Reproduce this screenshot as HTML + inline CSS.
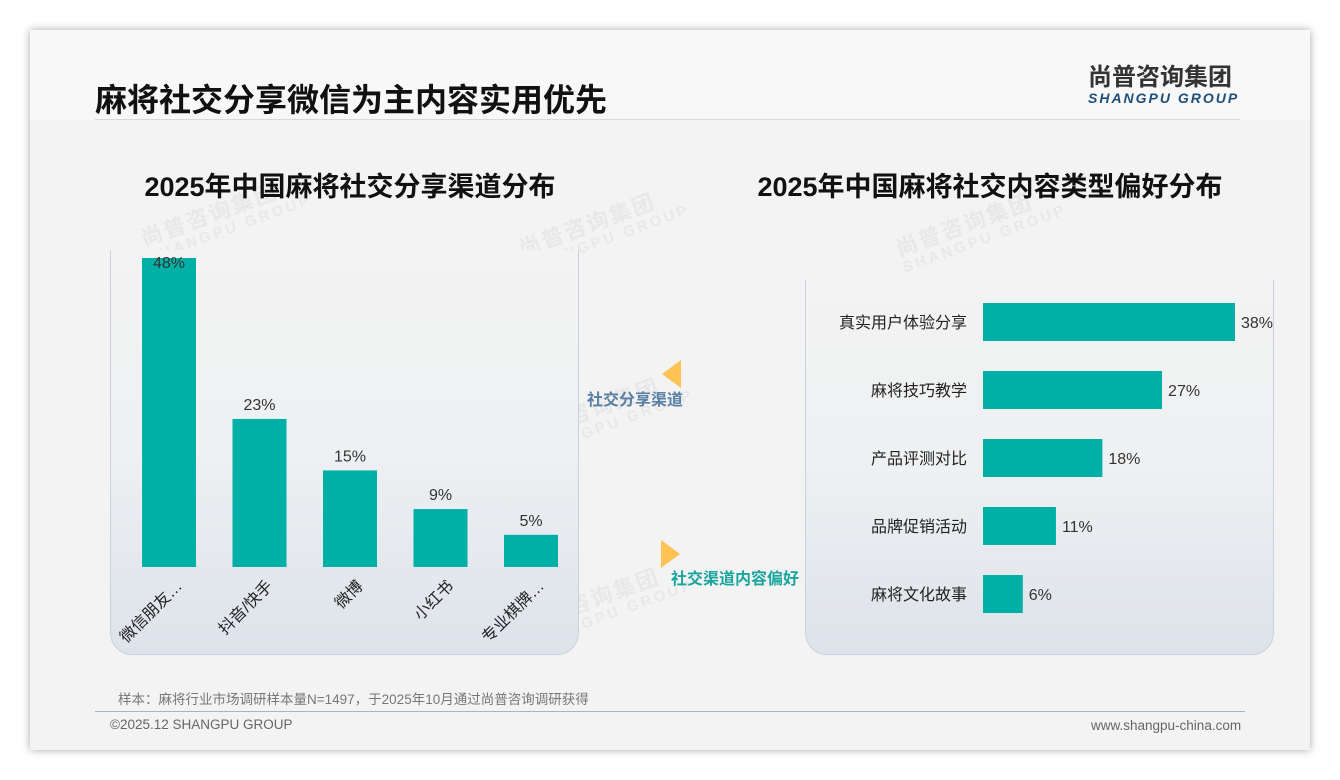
<!DOCTYPE html>
<html><head><meta charset="utf-8"><style>
body{margin:0;width:1340px;height:780px;background:#fff;font-family:"Liberation Sans","Noto Sans CJK SC",sans-serif;overflow:hidden;position:relative}
.card{position:absolute;left:30px;top:30px;width:1280px;height:720px;background:#f3f3f3;box-shadow:0 0 8px rgba(0,0,0,.35)}
.abs{position:absolute}
.panel{position:absolute;border:1px solid #c9d2dc;border-top:none;border-radius:0 0 22px 22px;background:linear-gradient(#f3f3f3 0%,#eef0f2 50%,#dde3ea 100%)}
.wm{position:absolute;color:rgba(150,150,150,.11);font-weight:bold;transform:rotate(-20deg);font-size:22px;line-height:20px;letter-spacing:2px}
.wm span{display:block;font-size:15px;letter-spacing:3px}
</style></head><body>
<div class="card"></div>
<div class="abs" style="left:30px;top:30px;width:1280px;height:90px;background:#f8f8f8"></div>
<div class="abs" style="left:95px;top:75px;font-size:32px;font-weight:bold;color:#111">麻将社交分享微信为主内容实用优先</div>
<div class="abs" style="left:1088px;top:65px;text-align:left">
<div style="font-size:24px;font-weight:bold;color:#333;letter-spacing:0px;line-height:26px">尚普咨询集团</div>
<div style="font-size:14px;font-weight:bold;font-style:italic;color:#1e4f78;letter-spacing:2px;margin-top:-1px">SHANGPU GROUP</div></div>
<div class="abs" style="left:95px;top:119px;width:1145px;height:1px;background:#d8d8d8"></div>

<div class="wm" style="left:140px;top:200px">尚普咨询集团<span>SHANGPU GROUP</span></div>
<div class="wm" style="left:518px;top:210px">尚普咨询集团<span>SHANGPU GROUP</span></div>
<div class="wm" style="left:895px;top:210px">尚普咨询集团<span>SHANGPU GROUP</span></div>
<div class="wm" style="left:150px;top:395px">尚普咨询集团<span>SHANGPU GROUP</span></div>
<div class="wm" style="left:522px;top:395px">尚普咨询集团<span>SHANGPU GROUP</span></div>
<div class="wm" style="left:898px;top:395px">尚普咨询集团<span>SHANGPU GROUP</span></div>
<div class="wm" style="left:145px;top:585px">尚普咨询集团<span>SHANGPU GROUP</span></div>
<div class="wm" style="left:522px;top:585px">尚普咨询集团<span>SHANGPU GROUP</span></div>
<div class="wm" style="left:898px;top:585px">尚普咨询集团<span>SHANGPU GROUP</span></div>

<div class="abs" style="left:100px;width:500px;top:165px;text-align:center;font-size:27px;font-weight:bold;color:#111">2025年中国麻将社交分享渠道分布</div>
<div class="abs" style="left:730px;width:520px;top:165px;text-align:center;font-size:27px;font-weight:bold;color:#111">2025年中国麻将社交内容类型偏好分布</div>

<div class="panel" style="left:110px;top:250px;width:467px;height:404px"></div>
<div class="panel" style="left:805px;top:280px;width:467px;height:374px"></div>

<svg class="abs" style="left:0;top:0" width="1340" height="780" id="svg">
<polygon points="681,360 681,388 662,374" fill="#fcc353"/>
<polygon points="661,540 661,568 680,554" fill="#fcc353"/>
<text x="587" y="405" font-size="16" font-weight="bold" fill="#5a7fa5" font-family="Liberation Sans,Noto Sans CJK SC,sans-serif">社交分享渠道</text>
<text x="671" y="584" font-size="16" font-weight="bold" fill="#1aa59c" font-family="Liberation Sans,Noto Sans CJK SC,sans-serif">社交渠道内容偏好</text>
</svg>

<div class="abs" style="left:118px;top:688px;font-size:13.5px;color:#777">样本：麻将行业市场调研样本量N=1497，于2025年10月通过尚普咨询调研获得</div>
<div class="abs" style="left:95px;top:711px;width:1150px;height:1px;background:#9fb6cc"></div>
<div class="abs" style="left:110px;top:717px;font-size:13.5px;color:#666">©2025.12 SHANGPU GROUP</div>
<div class="abs" style="left:1091px;top:718px;font-size:13.5px;color:#666">www.shangpu-china.com</div>

<script>
const leftCategories=["微信朋友…","抖音/快手","微博","小红书","专业棋牌…"];
const leftValues=[48,23,15,9,5];
const rightCategories=["真实用户体验分享","麻将技巧教学","产品评测对比","品牌促销活动","麻将文化故事"];
const rightValues=[38,27,18,11,6];
const NS="http://www.w3.org/2000/svg";
const svg=document.getElementById('svg');
const FONT='Liberation Sans,Noto Sans CJK SC,sans-serif';
function mk(t,a){const e=document.createElementNS(NS,t);for(const k in a)e.setAttribute(k,a[k]);svg.appendChild(e);return e;}
const lBase=567,lScale=309/48,lX0=169,lStep=90.5,lW=54;
const ly=v=>lBase-v*lScale, lx=i=>lX0+i*lStep;
leftValues.forEach((v,i)=>{
 const r=mk('rect',{x:lx(i)-lW/2,y:ly(v),width:lW,height:lBase-ly(v),fill:'#00b0a6'});
 
 
 const t=mk('text',{x:lx(i),y:Math.max(ly(v)-9,268),'text-anchor':'middle','font-size':16,fill:'#333','font-family':FONT});
 t.textContent=v+'%';
 
 
 const c=mk('text',{x:lx(i)+14,y:lBase+20,'text-anchor':'end','font-size':16,fill:'#222','font-family':FONT,transform:`rotate(-45 ${lx(i)+14} ${lBase+20})`});
 c.textContent=leftCategories[i];
 
 
});
const rX0=983,rScale=252/38,rY0=322,rStep=68,rH=38;
const rw=v=>v*rScale, ry=i=>rY0+i*rStep;
rightValues.forEach((v,i)=>{
 const r=mk('rect',{x:rX0,y:ry(i)-rH/2,width:rw(v),height:rH,fill:'#00b0a6'});
 
 
 const t=mk('text',{x:rX0+rw(v)+6,y:ry(i)+6,'font-size':16,fill:'#333','font-family':FONT});
 t.textContent=v+'%';
 
 
 const c=mk('text',{x:967,y:ry(i)+6,'text-anchor':'end','font-size':16,fill:'#222','font-family':FONT});
 c.textContent=rightCategories[i];
 
 
});
</script>
</body></html>
